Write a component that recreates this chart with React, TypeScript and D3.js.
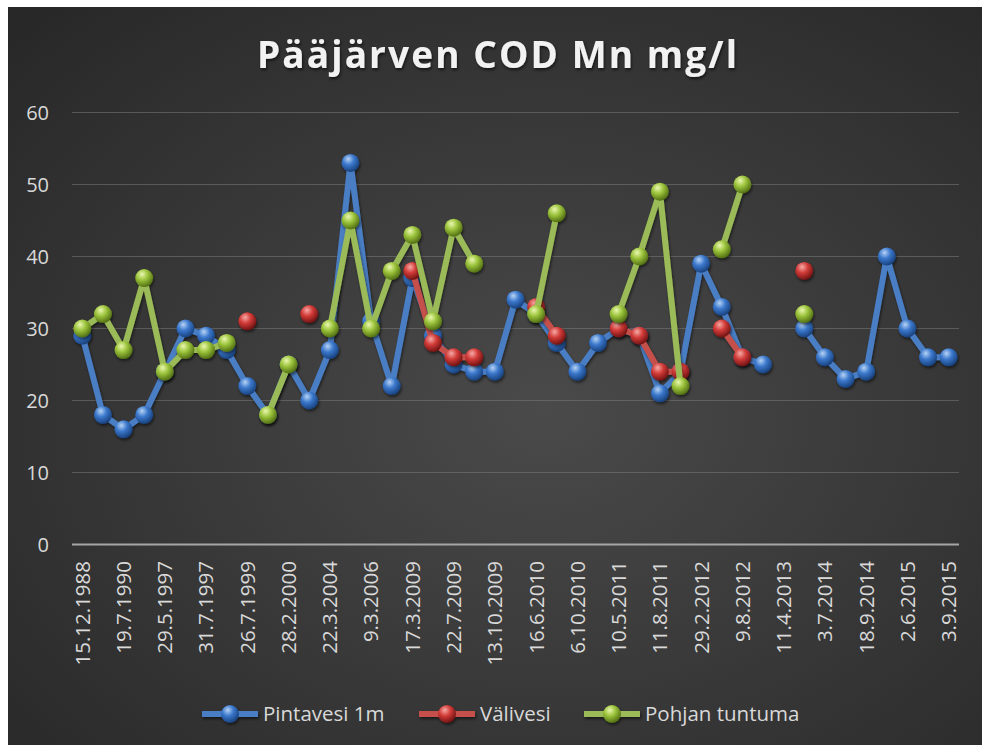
import React, { useRef, useEffect } from 'react';
import * as d3 from 'd3';

// x-axis labels, shown on every second category (43 categories in total)
const tickLabels = [
  '15.12.1988', '19.7.1990', '29.5.1997', '31.7.1997', '26.7.1999', '28.2.2000',
  '22.3.2004', '9.3.2006', '17.3.2009', '22.7.2009', '13.10.2009', '16.6.2010',
  '6.10.2010', '10.5.2011', '11.8.2011', '29.2.2012', '9.8.2012', '11.4.2013',
  '3.7.2014', '18.9.2014', '2.6.2015', '3.9.2015',
];

const pintavesi: (number | null)[] = [
  29, 18, 16, 18, 24, 30, 29, 27, 22, 18, 25, 20, 27, 53, 31, 22, 37, 29, 25, 24, 24,
  34, 32, 28, 24, 28, 30, 29, 21, 24, 39, 33, 26, 25, null, 30, 26, 23, 24, 40, 30, 26, 26,
];

const valivesi: (number | null)[] = [
  null, null, null, null, null, null, null, null, 31, null, null, 32, null, null, null, null,
  38, 28, 26, 26, null, null, 33, 29, null, null, 30, 29, 24, 24, null, 30, 26, null, null,
  38, null, null, null, null, null, null, null,
];

const pohja: (number | null)[] = [
  30, 32, 27, 37, 24, 27, 27, 28, null, 18, 25, null, 30, 45, 30, 38, 43, 31, 44, 39,
  null, null, 32, 46, null, null, 32, 40, 49, 22, null, 41, 50, null, null, 32,
  null, null, null, null, null, null, null,
];

const yTicks = [0, 10, 20, 30, 40, 50, 60];

const series = [
  { name: 'Pintavesi 1m', values: pintavesi, line: '#4a7ec4', light: '#b6d3f5', base: '#3b78cc', dark: '#173f7a' },
  { name: 'Välivesi', values: valivesi, line: '#c4504c', light: '#f6aaa6', base: '#d23b38', dark: '#6e1212' },
  { name: 'Pohjan tuntuma', values: pohja, line: '#9bbb59', light: '#eaf7b0', base: '#9cc43c', dark: '#4f6c12' },
];

const W = 982;
const H = 745;
const plot = { left: 72, right: 959, top: 112.5, bottom: 544.5 };
const font = '"Open Sans", "DejaVu Sans", sans-serif';

export default function App() {
  const ref = useRef<SVGSVGElement>(null);

  useEffect(() => {
    const svg = d3.select(ref.current);
    svg.selectAll('*').remove();

    const defs = svg.append('defs');
    const bg = defs.append('radialGradient').attr('id', 'bg')
      .attr('cx', '55%').attr('cy', '55%').attr('r', '75%');
    bg.append('stop').attr('offset', '0%').attr('stop-color', '#4a4a4a');
    bg.append('stop').attr('offset', '100%').attr('stop-color', '#282828');

    series.forEach((s, i) => {
      const g = defs.append('radialGradient').attr('id', 'ball' + i)
        .attr('cx', '38%').attr('cy', '32%').attr('r', '70%').attr('fx', '38%').attr('fy', '28%');
      g.append('stop').attr('offset', '0%').attr('stop-color', s.light);
      g.append('stop').attr('offset', '45%').attr('stop-color', s.base);
      g.append('stop').attr('offset', '100%').attr('stop-color', s.dark);
    });

    const sh = defs.append('filter').attr('id', 'shadow')
      .attr('x', '-20%').attr('y', '-20%').attr('width', '140%').attr('height', '140%');
    sh.append('feDropShadow').attr('dx', 1).attr('dy', 2).attr('stdDeviation', 1.8)
      .attr('flood-color', '#000').attr('flood-opacity', 0.55);

    const tsh = defs.append('filter').attr('id', 'tshadow');
    tsh.append('feDropShadow').attr('dx', 1).attr('dy', 2).attr('stdDeviation', 1.5)
      .attr('flood-color', '#000').attr('flood-opacity', 0.6);

    svg.append('rect').attr('x', 8).attr('y', 7).attr('width', W - 8).attr('height', H - 7)
      .attr('fill', 'url(#bg)');

    // title
    svg.append('text')
      .attr('x', 497).attr('y', 68)
      .attr('text-anchor', 'middle')
      .attr('font-family', font).attr('font-weight', 700).attr('font-size', 37)
      .attr('textLength', 480).attr('lengthAdjust', 'spacing')
      .attr('fill', '#f2f2f2').attr('filter', 'url(#tshadow)')
      .text('Pääjärven COD Mn mg/l');

    const n = pintavesi.length;
    const x = d3.scaleBand<number>().domain(d3.range(n)).range([plot.left, plot.right]);
    const cx = (i: number) => x(i)! + x.bandwidth() / 2;
    const y = d3.scaleLinear().domain([0, 60]).range([plot.bottom, plot.top]);

    // gridlines
    svg.append('g').selectAll('line').data(yTicks.filter(t => t > 0)).join('line')
      .attr('x1', plot.left).attr('x2', plot.right)
      .attr('y1', d => y(d)).attr('y2', d => y(d))
      .attr('stroke', '#7a7a7a').attr('stroke-opacity', 0.55).attr('stroke-width', 1.2);

    svg.append('line')
      .attr('x1', plot.left).attr('x2', plot.right)
      .attr('y1', y(0)).attr('y2', y(0))
      .attr('stroke', '#a6a6a6').attr('stroke-width', 2.2);

    // y labels
    svg.append('g').selectAll('text').data(yTicks).join('text')
      .attr('x', 49).attr('y', d => y(d))
      .attr('dy', '0.35em').attr('text-anchor', 'end')
      .attr('font-family', font).attr('font-size', 20).attr('fill', '#d9d9d9')
      .text(d => d);

    // x labels
    svg.append('g').selectAll('text').data(tickLabels).join('text')
      .attr('transform', (d, i) => `translate(${cx(i * 2)},561) rotate(-90)`)
      .attr('dy', '0.36em').attr('text-anchor', 'end')
      .attr('font-family', font).attr('font-size', 20.5).attr('fill', '#d9d9d9')
      .text(d => d);

    const line = d3.line<number | null>()
      .defined(d => d !== null)
      .x((d, i) => cx(i))
      .y(d => y(d as number));

    series.forEach((s, si) => {
      const g = svg.append('g').attr('filter', 'url(#shadow)');
      g.append('path').datum(s.values)
        .attr('fill', 'none').attr('stroke', s.line).attr('stroke-width', 6)
        .attr('stroke-linejoin', 'round').attr('d', line);
      const pts = s.values.map((v, i) => ({ v, i })).filter(p => p.v !== null);
      g.selectAll('circle').data(pts).join('circle')
        .attr('cx', p => cx(p.i)).attr('cy', p => y(p.v as number))
        .attr('r', 9).attr('fill', `url(#ball${si})`);
    });

    // legend
    const legendX = [202, 419, 584];
    series.forEach((s, si) => {
      const lx = legendX[si];
      const g = svg.append('g').attr('filter', 'url(#shadow)');
      g.append('line').attr('x1', lx).attr('x2', lx + 56).attr('y1', 714).attr('y2', 714)
        .attr('stroke', s.line).attr('stroke-width', 6);
      g.append('circle').attr('cx', lx + 28).attr('cy', 714).attr('r', 9)
        .attr('fill', `url(#ball${si})`);
      svg.append('text').attr('x', lx + 61).attr('y', 714).attr('dy', '0.35em')
        .attr('font-family', font).attr('font-size', 20.5).attr('fill', '#d9d9d9')
        .text(s.name);
    });
  }, []);

  return (
    <svg ref={ref} width={W} height={H}
      style={{ position: 'absolute', left: 0, top: 0, display: 'block' }} />
  );
}
